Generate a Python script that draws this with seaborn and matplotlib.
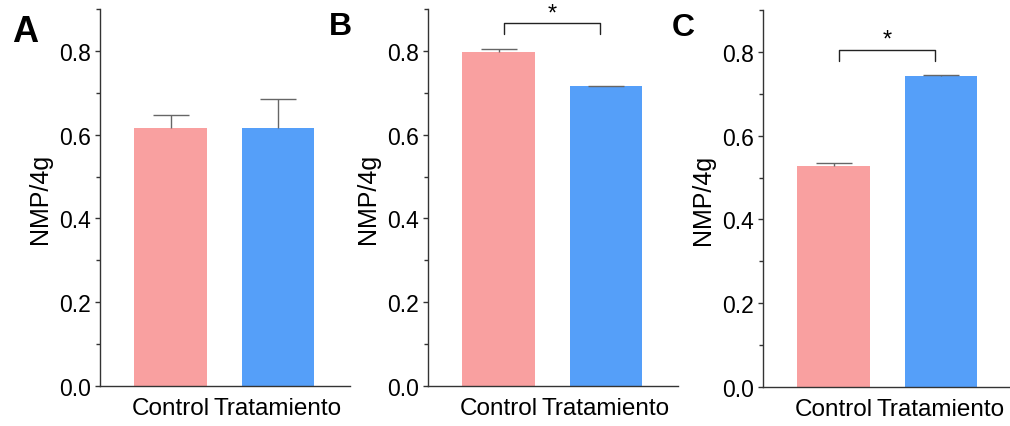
import numpy as np
import pandas as pd
import matplotlib
matplotlib.use("Agg")
import matplotlib.pyplot as plt
from matplotlib.ticker import MultipleLocator
import seaborn as sns

# data
groups = ["Control", "Tratamiento"]
nmp_a = [0.617, 0.617]
err_a = [0.031, 0.069]
nmp_b = [0.798, 0.715]
err_b = [0.007, 0.001]
nmp_c = [0.527, 0.743]
err_c = [0.007, 0.003]
panels = ["A", "B", "C"]
sig_b = 0.866
sig_c = 0.805

colors = ["#F9A0A0", "#559FF9"]

sns.set_style("ticks")
plt.rcParams['font.family'] = ['Liberation Sans', 'DejaVu Sans']
for k in ['text.color', 'axes.labelcolor', 'xtick.color', 'ytick.color']:
    plt.rcParams[k] = 'black'

fig = plt.figure(figsize=(10.10, 4.27), dpi=100)
W, H = 1010., 427.
lefts = [100, 428, 763]
bottoms = [40, 40, 39]
axs = [fig.add_axes([l/W, b/H, 250/W, 377/H]) for l, b in zip(lefts, bottoms)]

data = [(nmp_a, err_a, None), (nmp_b, err_b, sig_b), (nmp_c, err_c, sig_c)]
for ax, (vals, errs, sig) in zip(axs, data):
    df = pd.DataFrame({'grupo': groups, 'nmp': vals})
    sns.barplot(data=df, x='grupo', y='nmp', hue='grupo', palette=colors,
                width=0.676, errorbar=None, legend=False, saturation=1,
                linewidth=0, ax=ax)
    eb = ax.errorbar(x=np.arange(len(vals)), y=vals,
                     yerr=[np.zeros(len(errs)), errs],
                     fmt='none', ecolor='#666666', elinewidth=1.0, capsize=13,
                     capthick=1.0, zorder=3)
    # one-sided bars: drop the lower caps
    eb[1][0].remove()
    if sig is not None:
        x0, x1 = 0.05, 0.95
        ax.plot([x0, x0, x1, x1], [sig-0.026, sig, sig, sig-0.026],
                color='#222222', lw=1.0, clip_on=False)
        ax.text((x0+x1)/2, sig-0.002, '*', ha='center', va='bottom',
                fontsize=17, color='black')

    ax.set_xlim(-0.66, 1.675)
    ax.set_ylim(0, 0.9)
    ax.yaxis.set_major_locator(MultipleLocator(0.2))
    ax.yaxis.set_minor_locator(MultipleLocator(0.1))
    ax.set_yticklabels(['{:.1f}'.format(y) for y in ax.get_yticks()])
    ax.tick_params(axis='y', which='major', direction='out', length=3.5,
                   width=1, pad=3, labelsize=16.5, color='#333333')
    ax.tick_params(axis='y', which='minor', direction='out', length=3,
                   width=1, color='#333333')
    ax.tick_params(axis='x', length=0, pad=8, labelsize=17.5)
    ax.set_xlabel('')
    ax.set_ylabel('NMP/4g', fontsize=18, labelpad=5)
    for s in ['top', 'right']:
        ax.spines[s].set_visible(False)
    for s in ['left', 'bottom']:
        ax.spines[s].set_color('#333333')
        ax.spines[s].set_linewidth(1.0)

label_pos = [(25, 42), (340, 35), (683, 36)]
label_size = [26, 23, 23]
for p, (x, y), fs in zip(panels, label_pos, label_size):
    fig.text(x/W, 1 - y/H, p, ha='center', va='baseline',
             fontsize=fs, fontweight='bold')

plt.savefig('out.png', dpi=100)
plt.close()
